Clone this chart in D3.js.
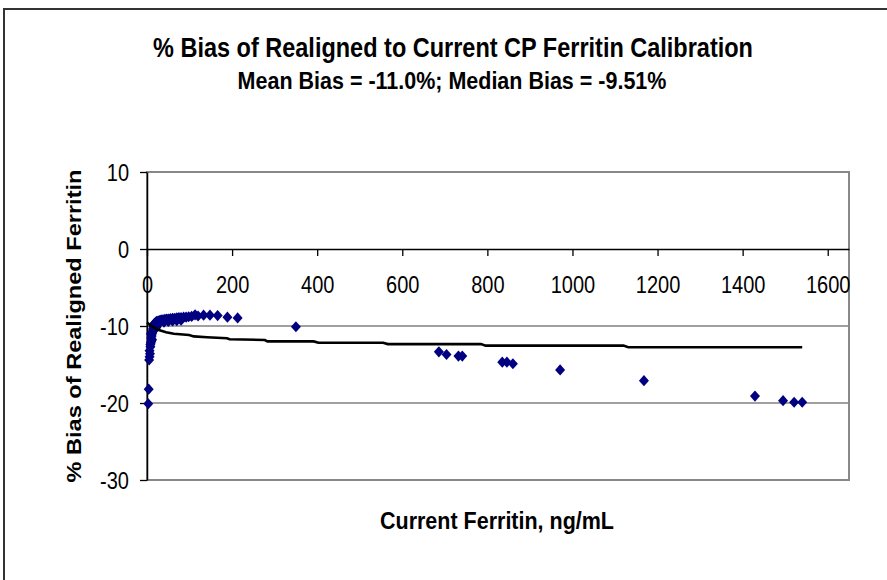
<!DOCTYPE html>
<html>
<head>
<meta charset="utf-8">
<script src="https://cdn.jsdelivr.net/npm/d3@7"></script>
<style>
  body { margin: 0; background: #fff; }
  svg { font-family: "Liberation Sans", Arial, sans-serif; }
</style>
</head>
<body>
<div id="chart"></div>
<script>
// chart values
const titleText = "% Bias of Realigned to Current CP Ferritin Calibration";
const subtitleText = "Mean Bias = -11.0%; Median Bias = -9.51%";
const xLabel = "Current Ferritin, ng/mL";
const yLabel = "% Bias of Realigned Ferritin";

const xTicks = [0, 200, 400, 600, 800, 1000, 1200, 1400, 1600];
const yTicks = [10, 0, -10, -20, -30];

// scatter points: current ferritin vs % bias
const ferritin = [3, 4, 5, 6, 6, 7, 8, 8, 9, 10, 10, 11, 12, 13, 14, 15, 16, 17, 19, 21,
  23, 26, 29, 32, 35, 38, 42, 46, 50, 55, 60, 65, 70, 75, 80, 86, 92, 98, 105, 113,
  120, 133, 148, 166, 189, 213, 20, 25, 30, 40, 50, 60, 70, 80, 18, 22, 12, 9,
  350, 686, 704, 732, 741, 835, 846, 860, 971, 1168, 1429, 1495, 1521, 1540];
const bias = [-20.1, -18.2, -14.4, -14.0, -13.2, -13.6, -12.7, -12.4, -12.2, -12.0, -11.6, -11.3, -11.0, -10.7, -10.4, -10.1, -9.9, -9.7, -9.6, -9.5,
  -9.4, -9.35, -9.3, -9.25, -9.2, -9.2, -9.15, -9.1, -9.1, -9.05, -9.0, -9.0, -8.95, -8.9, -8.9, -8.85, -8.85, -8.8, -8.75, -8.55,
  -8.7, -8.6, -8.6, -8.65, -8.85, -8.95, -10.0, -9.8, -9.6, -9.5, -9.4, -9.35, -9.3, -9.25, -10.4, -10.2, -11.8, -11.0,
  -10.1, -13.35, -13.7, -13.9, -13.9, -14.7, -14.7, -14.9, -15.7, -17.1, -19.1, -19.7, -19.9, -19.9];

// black trend line
const lineX = [0, 10, 26, 45, 63, 99, 110, 141, 188, 194, 277, 283, 392, 403, 555, 566, 785, 796, 1120, 1131, 1540];
const lineY = [-9.55, -10.0, -10.5, -10.8, -11.0, -11.17, -11.35, -11.47, -11.6, -11.72, -11.82, -12.0, -12.0, -12.17, -12.17, -12.35, -12.35, -12.55, -12.55, -12.75, -12.75];

const points = ferritin.map((f, i) => ({ x: f, y: bias[i] }));
const linePts = lineX.map((v, i) => ({ x: v, y: lineY[i] }));

// layout
const W = 887, H = 580;
const plot = { left: 147, right: 849, top: 172, bottom: 480 };
const stretch = 1.15; // text in the picture is a bit taller than normal

const svg = d3.select("#chart").append("svg")
    .attr("width", W)
    .attr("height", H);

// outer chart border (runs off the right and bottom edges)
svg.append("path")
    .attr("d", `M4,${H + 10}V9H${W + 10}`)
    .attr("fill", "none")
    .attr("stroke", "#333")
    .attr("stroke-width", 2);

const xScale = d3.scaleLinear().domain([0, 1650]).range([plot.left, plot.right]);
const yScale = d3.scaleLinear().domain([-30, 10]).range([plot.bottom, plot.top]);

// gridlines
svg.append("g")
    .selectAll("line")
    .data(yTicks.filter(d => d !== 0))
    .enter()
    .append("line")
    .attr("x1", plot.left)
    .attr("x2", plot.right)
    .attr("y1", d => yScale(d))
    .attr("y2", d => yScale(d))
    .attr("stroke", "#808080")
    .attr("stroke-width", 1.5);

// plot area border
svg.append("rect")
    .attr("x", plot.left)
    .attr("y", plot.top)
    .attr("width", plot.right - plot.left)
    .attr("height", plot.bottom - plot.top)
    .attr("fill", "none")
    .attr("stroke", "#888")
    .attr("stroke-width", 2);

// x axis, crossing at y = 0
const xAxis = svg.append("g")
    .attr("transform", `translate(0,${yScale(0)})`)
    .call(d3.axisBottom(xScale).tickValues(xTicks).tickSize(7).tickSizeOuter(0));
xAxis.select(".domain").attr("stroke", "#000").attr("stroke-width", 1.5);
xAxis.selectAll(".tick line").attr("stroke", "#000").attr("stroke-width", 1.3);
xAxis.selectAll(".tick text")
    .attr("y", 0)
    .attr("dy", 0)
    .attr("transform", `translate(0,44) scale(1,${stretch})`)
    .style("font-size", "20px")
    .attr("fill", "#000");

// y axis
const yAxis = svg.append("g")
    .attr("transform", `translate(${plot.left},0)`)
    .call(d3.axisLeft(yScale).tickValues(yTicks).tickSize(7).tickSizeOuter(0));
yAxis.select(".domain").attr("stroke", "#000").attr("stroke-width", 1.5);
yAxis.selectAll(".tick line").attr("stroke", "#000").attr("stroke-width", 1.3);
yAxis.selectAll(".tick text")
    .attr("x", 0)
    .attr("dy", 0)
    .attr("transform", `translate(-18,8) scale(1,${stretch})`)
    .attr("text-anchor", "end")
    .style("font-size", "20px")
    .attr("fill", "#000");
svg.selectAll(".tick text").text(d => String(d));

// scatter diamonds
svg.append("g")
    .selectAll("path")
    .data(points)
    .enter()
    .append("path")
    .attr("transform", d => `translate(${xScale(d.x)},${yScale(d.y)})`)
    .attr("d", "M0,-5.6L5,0L0,5.6L-5,0Z")
    .attr("fill", "#000080");

// trend line on top
const line = d3.line()
    .x(d => xScale(d.x))
    .y(d => yScale(d.y));

svg.append("path")
    .datum(linePts)
    .attr("fill", "none")
    .attr("stroke", "#000")
    .attr("stroke-width", 2.6)
    .attr("d", line);

// titles
svg.append("text")
    .attr("transform", `translate(453,57) scale(1,${stretch})`)
    .attr("text-anchor", "middle")
    .style("font-size", "23.5px")
    .style("font-weight", "bold")
    .text(titleText);

svg.append("text")
    .attr("transform", `translate(452,89) scale(1,${stretch})`)
    .attr("text-anchor", "middle")
    .style("font-size", "21.5px")
    .style("font-weight", "bold")
    .text(subtitleText);

svg.append("text")
    .attr("transform", `translate(497,529) scale(1,${stretch})`)
    .attr("text-anchor", "middle")
    .style("font-size", "21.5px")
    .style("font-weight", "bold")
    .text(xLabel);

svg.append("text")
    .attr("transform", `translate(81,326) rotate(-90) scale(${stretch},1)`)
    .attr("text-anchor", "middle")
    .style("font-size", "20.5px")
    .style("font-weight", "bold")
    .text(yLabel);
</script>
</body>
</html>
